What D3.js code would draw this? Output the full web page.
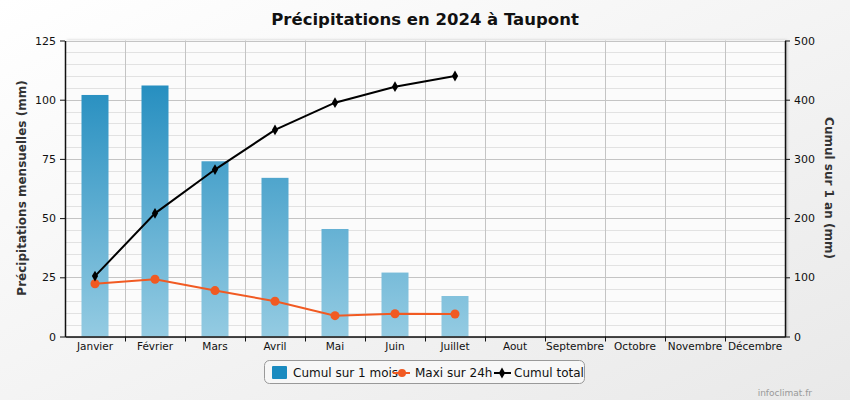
<!DOCTYPE html>
<html><head><meta charset="utf-8">
<script src="https://cdn.jsdelivr.net/npm/d3@7"></script>
<style>body{margin:0;padding:0;overflow:hidden}svg{display:block;font-family:"DejaVu Sans",Verdana,sans-serif}</style>
</head><body>
<script>
const months = ["Janvier","Février","Mars","Avril","Mai","Juin","Juillet","Aout","Septembre","Octobre","Novembre","Décembre"];
const cumulMois = [102, 106, 74, 67, 45.4, 27, 17.1];
const maxi24h = [22.3, 24.2, 19.4, 14.9, 8.8, 9.6, 9.5];
const cumulTotal = [102, 208, 282, 349, 395, 422, 440];
const leftTicks = [0, 25, 50, 75, 100, 125];
const rightTicks = [0, 100, 200, 300, 400, 500];

const W = 850, H = 400;
const m = {l: 65, r: 785, t: 40.5, b: 336.5};
const svg = d3.select("body").append("svg").attr("width", W).attr("height", H);
const defs = svg.append("defs");
const bg = defs.append("linearGradient").attr("id","bg").attr("x1","0").attr("y1","0").attr("x2","1").attr("y2","1");
bg.append("stop").attr("offset","0").attr("stop-color","#ffffff");
bg.append("stop").attr("offset","1").attr("stop-color","#e9e9e9");
const bar = defs.append("linearGradient").attr("id","bar").attr("gradientUnits","userSpaceOnUse")
  .attr("x1",0).attr("y1",m.t).attr("x2",0).attr("y2",m.b);
bar.append("stop").attr("offset","0").attr("stop-color","#1384ba");
bar.append("stop").attr("offset","1").attr("stop-color","#94cbe2");
const sh = defs.append("filter").attr("id","sh").attr("x","-5%").attr("y","-5%").attr("width","110%").attr("height","110%");
sh.append("feDropShadow").attr("dx",2).attr("dy",0).attr("stdDeviation",1.5).attr("flood-color","#000").attr("flood-opacity",0.25);

svg.append("rect").attr("width",W).attr("height",H).attr("fill","url(#bg)");

const x = d3.scaleBand().domain(months).range([m.l, m.r]);
const yL = d3.scaleLinear().domain([0,125]).range([m.b, m.t]);
const yR = d3.scaleLinear().domain([0,500]).range([m.b, m.t]);

svg.append("rect").attr("x",m.l).attr("y",m.t).attr("width",m.r-m.l).attr("height",m.b-m.t)
  .attr("fill","#fbfbfb").attr("filter","url(#sh)");

// grid
const g = svg.append("g");
g.selectAll(".mn").data(d3.range(0,126,5).filter(v=>v%25)).join("line")
  .attr("x1",m.l).attr("x2",m.r).attr("y1",d=>Math.round(yL(d))+0.5).attr("y2",d=>Math.round(yL(d))+0.5)
  .attr("stroke","#e2e2e2").attr("stroke-width",1);
g.selectAll(".mj").data(leftTicks).join("line")
  .attr("x1",m.l).attr("x2",m.r).attr("y1",d=>Math.round(yL(d))+0.5).attr("y2",d=>Math.round(yL(d))+0.5)
  .attr("stroke","#c4c4c4").attr("stroke-width",1);
g.selectAll(".vg").data(months.slice(1)).join("line")
  .attr("x1",d=>Math.round(x(d))+0.5).attr("x2",d=>Math.round(x(d))+0.5).attr("y1",m.t).attr("y2",m.b)
  .attr("stroke","#c4c4c4");

// bars
const bw = 27;
svg.append("g").selectAll("rect").data(cumulMois).join("rect")
  .attr("x",(d,i)=>x(months[i])+x.bandwidth()/2-bw/2).attr("width",bw)
  .attr("y",d=>yL(d)).attr("height",d=>yL(0)-yL(d)).attr("fill","url(#bar)");

// axes
const la = svg.append("g").attr("transform",`translate(${m.l},0)`)
  .call(d3.axisLeft(yL).tickValues(leftTicks).tickSize(5).tickSizeOuter(0));
const ra = svg.append("g").attr("transform",`translate(${m.r},0)`)
  .call(d3.axisRight(yR).tickValues(rightTicks).tickSize(5).tickSizeOuter(0));
const xa = svg.append("g").attr("transform",`translate(0,${m.b})`)
  .call(d3.axisBottom(x).tickSize(0).tickSizeOuter(0));
[la,ra,xa].forEach(a=>{
  a.attr("font-family","DejaVu Sans, Verdana, sans-serif").attr("font-size",11);
  a.select(".domain").attr("stroke","#111").attr("stroke-width",1.5);
  a.selectAll(".tick text").attr("fill","#111");
  a.selectAll(".tick line").attr("stroke","#111");
});
la.selectAll(".tick text").attr("x",-9);
ra.selectAll(".tick text").attr("x",9);
xa.selectAll(".tick text").attr("y",6).attr("font-size",10.5);
svg.append("g").selectAll("line").data(months.slice(1)).join("line")
  .attr("x1",d=>Math.round(x(d))+0.5).attr("x2",d=>Math.round(x(d))+0.5).attr("y1",m.b).attr("y2",m.b+5)
  .attr("stroke","#111");

// lines
const cx = (d,i)=>x(months[i])+x.bandwidth()/2;
svg.append("path").datum(maxi24h).attr("fill","none").attr("stroke","#f15a22").attr("stroke-width",2)
  .attr("d",d3.line().x(cx).y(d=>yL(d)));
svg.append("g").selectAll("circle").data(maxi24h).join("circle")
  .attr("cx",cx).attr("cy",d=>yL(d)).attr("r",4.5).attr("fill","#f15a22");
svg.append("path").datum(cumulTotal).attr("fill","none").attr("stroke","#000").attr("stroke-width",2)
  .attr("d",d3.line().x(cx).y(d=>yR(d)));
const dia = d3.symbol().type(d3.symbolDiamond).size(34);
svg.append("g").selectAll("path").data(cumulTotal).join("path")
  .attr("transform",(d,i)=>`translate(${cx(d,i)},${yR(d)})`).attr("d",dia).attr("fill","#000");

// titles
svg.append("text").attr("x",425).attr("y",25).attr("text-anchor","middle").attr("font-size",16.5)
  .attr("font-weight","bold").attr("fill","#111").text("Précipitations en 2024 à Taupont");
svg.append("text").attr("transform","translate(26,188) rotate(-90)").attr("text-anchor","middle")
  .attr("font-size",12).attr("font-weight","bold").attr("fill","#333").text("Précipitations mensuelles (mm)");
svg.append("text").attr("transform","translate(825,188) rotate(90)").attr("text-anchor","middle")
  .attr("font-size",12).attr("font-weight","bold").attr("fill","#333").text("Cumul sur 1 an (mm)");

// legend
const lg = svg.append("g");
lg.append("rect").attr("x",264.5).attr("y",360.5).attr("width",320).attr("height",23).attr("rx",5)
  .attr("fill","#f7f7f7").attr("stroke","#999");
lg.append("rect").attr("x",272).attr("y",366).attr("width",15).attr("height",13).attr("rx",1).attr("fill","#1a8bc0");
lg.append("text").attr("x",293).attr("y",377).attr("font-size",12).attr("fill","#111").text("Cumul sur 1 mois");
lg.append("line").attr("x1",393).attr("x2",410).attr("y1",373).attr("y2",373).attr("stroke","#f15a22").attr("stroke-width",2);
lg.append("circle").attr("cx",402).attr("cy",373).attr("r",4).attr("fill","#f15a22");
lg.append("text").attr("x",415).attr("y",377).attr("font-size",12).attr("fill","#111").text("Maxi sur 24h");
lg.append("line").attr("x1",494).attr("x2",511).attr("y1",373).attr("y2",373).attr("stroke","#000").attr("stroke-width",2);
lg.append("path").attr("transform","translate(502,373)").attr("d",dia).attr("fill","#000");
lg.append("text").attr("x",514).attr("y",377).attr("font-size",12).attr("fill","#111").text("Cumul total");

svg.append("text").attr("x",812).attr("y",396).attr("text-anchor","end").attr("font-size",9)
  .attr("fill","#999").text("infoclimat.fr");
</script>
</body></html>
